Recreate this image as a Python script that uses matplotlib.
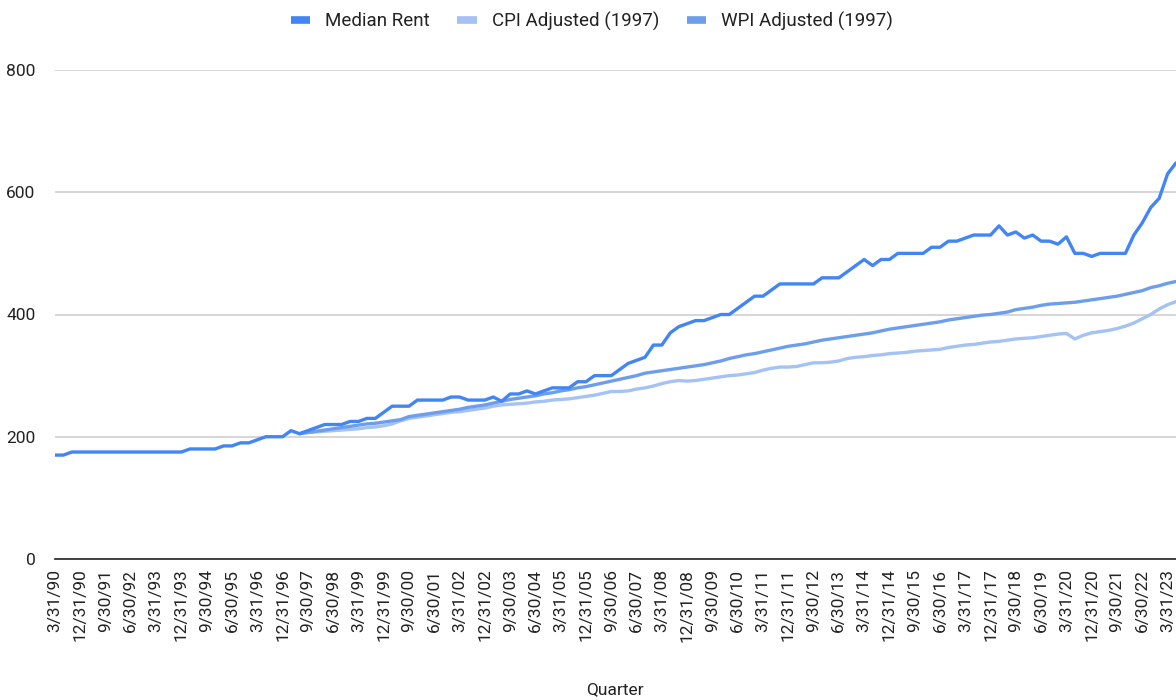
import matplotlib
matplotlib.use("Agg")
import matplotlib.pyplot as plt
from matplotlib.lines import Line2D
import pandas as pd

plt.rcParams['font.family'] = ['Roboto', 'DejaVu Sans']

# Quarter-end dates, 3/31/90 .. 6/30/23
quarter_dates = pd.date_range('1990-03-31', periods=134, freq='QE')
quarters = [f"{d.month}/{d.day}/{d.strftime('%y')}" for d in quarter_dates]

median_rent = [
    170, 170, 175, 175, 175, 175, 175, 175, 175, 175,
    175, 175, 175, 175, 175, 175, 180, 180, 180, 180,
    185, 185, 190, 190, 195, 200, 200, 200, 210, 205,
    210, 215, 220, 220, 220, 225, 225, 230, 230, 240,
    250, 250, 250, 260, 260, 260, 260, 265, 265, 260,
    260, 260, 265, 258, 270, 270, 275, 270, 275, 280,
    280, 280, 290, 290, 300, 300, 300, 310, 320, 325,
    330, 350, 350, 370, 380, 385, 390, 390, 395, 400,
    400, 410, 420, 430, 430, 440, 450, 450, 450, 450,
    450, 460, 460, 460, 470, 480, 490, 480, 490, 490,
    500, 500, 500, 500, 510, 510, 520, 520, 525, 530,
    530, 530, 545, 530, 535, 525, 530, 520, 520, 515,
    527, 500, 500, 495, 500, 500, 500, 500, 530, 550,
    575, 590, 630, 648,
]

# CPI and WPI adjusted series start at 6/30/97 (index 29)
adj_start = 29
cpi_adjusted = [
    205, 207, 208, 209, 210, 211, 212, 213, 215, 216,
    218, 221, 226, 230, 232, 234, 236, 238, 240, 241,
    243, 245, 247, 250, 252, 253, 254, 255, 257, 258,
    260, 261, 262, 264, 266, 268, 271, 274, 274, 275,
    278, 280, 283, 287, 290, 292, 291, 292, 294, 296,
    298, 300, 301, 303, 305, 309, 312, 314, 314, 315,
    318, 321, 321, 322, 324, 328, 330, 331, 333, 334,
    336, 337, 338, 340, 341, 342, 343, 346, 348, 350,
    351, 353, 355, 356, 358, 360, 361, 362, 364, 366,
    368, 369, 360, 366, 370, 372, 374, 377, 381, 386,
    393, 400, 409, 416, 421,
]
wpi_adjusted = [
    205, 207, 209, 211, 213, 215, 217, 219, 221, 222,
    224, 226, 228, 233, 235, 237, 239, 241, 243, 245,
    248, 250, 252, 255, 258, 261, 263, 265, 267, 270,
    272, 275, 277, 280, 282, 285, 288, 291, 294, 297,
    300, 304, 306, 308, 310, 312, 314, 316, 318, 321,
    324, 328, 331, 334, 336, 339, 342, 345, 348, 350,
    352, 355, 358, 360, 362, 364, 366, 368, 370, 373,
    376, 378, 380, 382, 384, 386, 388, 391, 393, 395,
    397, 399, 400, 402, 404, 408, 410, 412, 415, 417,
    418, 419, 420, 422, 424, 426, 428, 430, 433, 436,
    439, 444, 447, 451, 454,
]

series_names = ['Median Rent', 'CPI Adjusted (1997)', 'WPI Adjusted (1997)']
colors = ['#4285F4', '#A4C2F4', '#6D9EEB']
y_ticks = [0, 200, 400, 600, 800]

W, H = 1176, 700
fig = plt.figure(figsize=(W / 100, H / 100), dpi=100)
ax = fig.add_axes([55 / W, 141 / H, 1121 / W, 489 / H])

x_all = list(range(len(quarters)))
x_adj = list(range(adj_start, adj_start + len(cpi_adjusted)))

ax.plot(x_all, median_rent, color=colors[0], lw=2.4, zorder=5,
        solid_joinstyle='round', solid_capstyle='round')
ax.plot(x_adj, cpi_adjusted, color=colors[1], lw=2.4, zorder=3,
        solid_joinstyle='round', solid_capstyle='round')
ax.plot(x_adj, wpi_adjusted, color=colors[2], lw=2.4, zorder=4,
        solid_joinstyle='round', solid_capstyle='round')

ax.set_xlim(0, len(quarters) - 1)
ax.set_ylim(0, 800)
ax.set_yticks(y_ticks)
ax.set_yticklabels([str(v) for v in y_ticks], fontsize=12.5, color='#222222')
ax.yaxis.grid(True, color='#cccccc', lw=1.1)
ax.set_axisbelow(True)

tick_pos = x_all[::3]
ax.set_xticks(tick_pos)
ax.set_xticklabels([quarters[i] for i in tick_pos], rotation=90,
                   fontsize=12.5, color='#222222')
ax.tick_params(axis='both', length=0)
ax.tick_params(axis='x', pad=7)
ax.tick_params(axis='y', pad=14)

for s in ['top', 'right', 'left']:
    ax.spines[s].set_visible(False)
ax.spines['bottom'].set_color('#333333')
ax.spines['bottom'].set_linewidth(1.3)

fig.text(615 / W, 1 - 690 / H, 'Quarter', ha='center', va='center',
         fontsize=12.5, color='#222222')

handles = [Line2D([0], [0], color=c, lw=5.5, solid_capstyle='butt') for c in colors]
fig.legend(handles, series_names, loc='center', bbox_to_anchor=(592 / W, 1 - 21 / H),
           ncol=3, frameon=False, fontsize=13.5, handlelength=1.05,
           handletextpad=0.8, columnspacing=1.45, labelcolor='#222222')

fig.savefig('out.png', dpi=100, facecolor='white')
